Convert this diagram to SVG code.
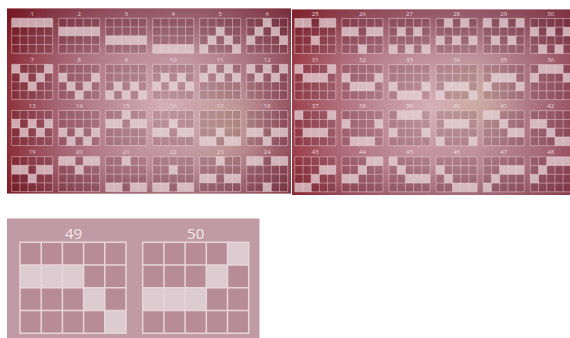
<svg xmlns="http://www.w3.org/2000/svg" xmlns:xlink="http://www.w3.org/1999/xlink" width="570" height="338" viewBox="0 0 570 338">
<style>
.n{font-family:"Open Sans","Liberation Sans",sans-serif;font-size:6px;fill:#f3e6ea;text-anchor:middle;opacity:.85}
.N{font-family:"Open Sans","Liberation Sans",sans-serif;font-size:15px;fill:#f4eaec;text-anchor:middle}
.cb{fill:#3a0812;fill-opacity:.15}
.gl{fill:none;stroke:#f4e2e7;stroke-opacity:.55;stroke-width:.8}
.on{fill:#f2e4e8;fill-opacity:.68}
.CB{fill:#b88b98}
.GL{fill:none;stroke:#e6d6da;stroke-width:1.5}
.ON{fill:#dccbd0}
</style>
<defs>
<linearGradient id="lb" x1="0" y1="0" x2="1" y2="0">
<stop offset="0" stop-color="#821b23"/><stop offset=".3" stop-color="#8e4252"/><stop offset=".65" stop-color="#9c6674"/><stop offset="1" stop-color="#7a2a38"/>
</linearGradient>
<linearGradient id="rb" x1="0" y1="0" x2="1" y2="0">
<stop offset="0" stop-color="#8c1b22"/><stop offset=".3" stop-color="#944050"/><stop offset=".65" stop-color="#9c6474"/><stop offset="1" stop-color="#8a3a4a"/>
</linearGradient>
<linearGradient id="vd" x1="0" y1="0" x2="0" y2="1">
<stop offset="0" stop-color="#5a0f1c" stop-opacity=".35"/><stop offset=".25" stop-color="#5a0f1c" stop-opacity="0"/><stop offset=".85" stop-color="#5a0f1c" stop-opacity="0"/><stop offset="1" stop-color="#5a0f1c" stop-opacity=".2"/>
</linearGradient>
<radialGradient id="lp" gradientUnits="userSpaceOnUse" cx="165" cy="108" r="185">
<stop offset="0" stop-color="#d8b4be" stop-opacity=".95"/><stop offset=".55" stop-color="#c496a4" stop-opacity=".55"/><stop offset="1" stop-color="#c496a4" stop-opacity="0"/>
</radialGradient>
<radialGradient id="ly" gradientUnits="userSpaceOnUse" cx="228" cy="125" r="55">
<stop offset="0" stop-color="#d8c8a2" stop-opacity=".45"/><stop offset="1" stop-color="#d8c8a2" stop-opacity="0"/>
</radialGradient>
<radialGradient id="rp" gradientUnits="userSpaceOnUse" cx="430" cy="108" r="185">
<stop offset="0" stop-color="#d8b4be" stop-opacity=".95"/><stop offset=".55" stop-color="#c496a4" stop-opacity=".55"/><stop offset="1" stop-color="#c496a4" stop-opacity="0"/>
</radialGradient>
<radialGradient id="ry" gradientUnits="userSpaceOnUse" cx="475" cy="100" r="55">
<stop offset="0" stop-color="#d8c8a2" stop-opacity=".45"/><stop offset="1" stop-color="#d8c8a2" stop-opacity="0"/>
</radialGradient>
<rect id="b" width="41" height="35" class="cb"/>
<path id="l" class="gl" d="M0,0H41V35H0Z M8.2,0V35 M16.4,0V35 M24.6,0V35 M32.8,0V35 M0,8.75H41 M0,17.5H41 M0,26.25H41"/>
<rect id="c" width="8.2" height="8.75" class="on"/>
<rect id="B" width="106" height="91" class="CB"/>
<path id="L" class="GL" d="M0,0H106V91H0Z M21.2,0V91 M42.4,0V91 M63.6,0V91 M84.8,0V91 M0,22.75H106 M0,45.5H106 M0,68.25H106"/>
<rect id="C" width="21.2" height="22.75" class="ON"/>
</defs>
<rect width="570" height="338" fill="#ffffff"/>
<g id="panel-left">
<rect x="7" y="8.5" width="284" height="185" fill="url(#lb)"/>
<rect x="7" y="8.5" width="284" height="185" fill="url(#lp)"/>
<rect x="7" y="8.5" width="284" height="185" fill="url(#ly)"/>
<rect x="7" y="8.5" width="284" height="185" fill="url(#vd)"/>
</g>
<g id="panel-right">
<rect x="292" y="9.5" width="278" height="185.5" fill="url(#rb)"/>
<rect x="292" y="9.5" width="278" height="185.5" fill="url(#rp)"/>
<rect x="292" y="9.5" width="278" height="185.5" fill="url(#ry)"/>
<rect x="292" y="9.5" width="278" height="185.5" fill="url(#vd)"/>
</g>
<g id="panel-bottom"><rect x="7" y="218.5" width="252.5" height="120" fill="#c09aa4"/></g>

<g id="line1" transform="translate(11.7 18.3)"><text class="n" x="20.5" y="-2.6">1</text><use href="#b"/><use href="#c" y="0"/><use href="#c" x="8.2" y="0"/><use href="#c" x="16.4" y="0"/><use href="#c" x="24.6" y="0"/><use href="#c" x="32.8" y="0"/><use href="#l"/></g>
<g id="line2" transform="translate(58.7 18.3)"><text class="n" x="20.5" y="-2.6">2</text><use href="#b"/><use href="#c" y="8.75"/><use href="#c" x="8.2" y="8.75"/><use href="#c" x="16.4" y="8.75"/><use href="#c" x="24.6" y="8.75"/><use href="#c" x="32.8" y="8.75"/><use href="#l"/></g>
<g id="line3" transform="translate(105.7 18.3)"><text class="n" x="20.5" y="-2.6">3</text><use href="#b"/><use href="#c" y="17.5"/><use href="#c" x="8.2" y="17.5"/><use href="#c" x="16.4" y="17.5"/><use href="#c" x="24.6" y="17.5"/><use href="#c" x="32.8" y="17.5"/><use href="#l"/></g>
<g id="line4" transform="translate(152.7 18.3)"><text class="n" x="20.5" y="-2.6">4</text><use href="#b"/><use href="#c" y="26.25"/><use href="#c" x="8.2" y="26.25"/><use href="#c" x="16.4" y="26.25"/><use href="#c" x="24.6" y="26.25"/><use href="#c" x="32.8" y="26.25"/><use href="#l"/></g>
<g id="line5" transform="translate(199.7 18.3)"><text class="n" x="20.5" y="-2.6">5</text><use href="#b"/><use href="#c" y="26.25"/><use href="#c" x="8.2" y="17.5"/><use href="#c" x="16.4" y="8.75"/><use href="#c" x="24.6" y="17.5"/><use href="#c" x="32.8" y="26.25"/><use href="#l"/></g>
<g id="line6" transform="translate(246.7 18.3)"><text class="n" x="20.5" y="-2.6">6</text><use href="#b"/><use href="#c" y="17.5"/><use href="#c" x="8.2" y="8.75"/><use href="#c" x="16.4" y="0"/><use href="#c" x="24.6" y="8.75"/><use href="#c" x="32.8" y="17.5"/><use href="#l"/></g>

<g id="line7" transform="translate(11.7 64.4)"><text class="n" x="20.5" y="-2.6">7</text><use href="#b"/><use href="#c" y="0"/><use href="#c" x="8.2" y="8.75"/><use href="#c" x="16.4" y="17.5"/><use href="#c" x="24.6" y="8.75"/><use href="#c" x="32.8" y="0"/><use href="#l"/></g>
<g id="line8" transform="translate(58.7 64.4)"><text class="n" x="20.5" y="-2.6">8</text><use href="#b"/><use href="#c" y="8.75"/><use href="#c" x="8.2" y="17.5"/><use href="#c" x="16.4" y="26.25"/><use href="#c" x="24.6" y="17.5"/><use href="#c" x="32.8" y="8.75"/><use href="#l"/></g>
<g id="line9" transform="translate(105.7 64.4)"><text class="n" x="20.5" y="-2.6">9</text><use href="#b"/><use href="#c" y="26.25"/><use href="#c" x="8.2" y="17.5"/><use href="#c" x="16.4" y="26.25"/><use href="#c" x="24.6" y="17.5"/><use href="#c" x="32.8" y="26.25"/><use href="#l"/></g>
<g id="line10" transform="translate(152.7 64.4)"><text class="n" x="20.5" y="-2.6">10</text><use href="#b"/><use href="#c" y="17.5"/><use href="#c" x="8.2" y="8.75"/><use href="#c" x="16.4" y="17.5"/><use href="#c" x="24.6" y="8.75"/><use href="#c" x="32.8" y="17.5"/><use href="#l"/></g>
<g id="line11" transform="translate(199.7 64.4)"><text class="n" x="20.5" y="-2.6">11</text><use href="#b"/><use href="#c" y="8.75"/><use href="#c" x="8.2" y="0"/><use href="#c" x="16.4" y="8.75"/><use href="#c" x="24.6" y="0"/><use href="#c" x="32.8" y="8.75"/><use href="#l"/></g>
<g id="line12" transform="translate(246.7 64.4)"><text class="n" x="20.5" y="-2.6">12</text><use href="#b"/><use href="#c" y="0"/><use href="#c" x="8.2" y="8.75"/><use href="#c" x="16.4" y="0"/><use href="#c" x="24.6" y="8.75"/><use href="#c" x="32.8" y="0"/><use href="#l"/></g>

<g id="line13" transform="translate(11.7 110.5)"><text class="n" x="20.5" y="-2.6">13</text><use href="#b"/><use href="#c" y="8.75"/><use href="#c" x="8.2" y="17.5"/><use href="#c" x="16.4" y="8.75"/><use href="#c" x="24.6" y="17.5"/><use href="#c" x="32.8" y="8.75"/><use href="#l"/></g>
<g id="line14" transform="translate(58.7 110.5)"><text class="n" x="20.5" y="-2.6">14</text><use href="#b"/><use href="#c" y="17.5"/><use href="#c" x="8.2" y="26.25"/><use href="#c" x="16.4" y="17.5"/><use href="#c" x="24.6" y="26.25"/><use href="#c" x="32.8" y="17.5"/><use href="#l"/></g>
<g id="line15" transform="translate(105.7 110.5)"><text class="n" x="20.5" y="-2.6">15</text><use href="#b"/><use href="#c" y="8.75"/><use href="#c" x="8.2" y="8.75"/><use href="#c" x="16.4" y="0"/><use href="#c" x="24.6" y="8.75"/><use href="#c" x="32.8" y="8.75"/><use href="#l"/></g>
<g id="line16" transform="translate(152.7 110.5)"><text class="n" x="20.5" y="-2.6">16</text><use href="#b"/><use href="#c" y="17.5"/><use href="#c" x="8.2" y="17.5"/><use href="#c" x="16.4" y="8.75"/><use href="#c" x="24.6" y="17.5"/><use href="#c" x="32.8" y="17.5"/><use href="#l"/></g>
<g id="line17" transform="translate(199.7 110.5)"><text class="n" x="20.5" y="-2.6">17</text><use href="#b"/><use href="#c" y="26.25"/><use href="#c" x="8.2" y="26.25"/><use href="#c" x="16.4" y="17.5"/><use href="#c" x="24.6" y="26.25"/><use href="#c" x="32.8" y="26.25"/><use href="#l"/></g>
<g id="line18" transform="translate(246.7 110.5)"><text class="n" x="20.5" y="-2.6">18</text><use href="#b"/><use href="#c" y="17.5"/><use href="#c" x="8.2" y="17.5"/><use href="#c" x="16.4" y="26.25"/><use href="#c" x="24.6" y="17.5"/><use href="#c" x="32.8" y="17.5"/><use href="#l"/></g>

<g id="line19" transform="translate(11.7 156.6)"><text class="n" x="20.5" y="-2.6">19</text><use href="#b"/><use href="#c" y="8.75"/><use href="#c" x="8.2" y="8.75"/><use href="#c" x="16.4" y="17.5"/><use href="#c" x="24.6" y="8.75"/><use href="#c" x="32.8" y="8.75"/><use href="#l"/></g>
<g id="line20" transform="translate(58.7 156.6)"><text class="n" x="20.5" y="-2.6">20</text><use href="#b"/><use href="#c" y="0"/><use href="#c" x="8.2" y="0"/><use href="#c" x="16.4" y="8.75"/><use href="#c" x="24.6" y="0"/><use href="#c" x="32.8" y="0"/><use href="#l"/></g>
<g id="line21" transform="translate(105.7 156.6)"><text class="n" x="20.5" y="-2.6">21</text><use href="#b"/><use href="#c" y="26.25"/><use href="#c" x="8.2" y="26.25"/><use href="#c" x="16.4" y="0"/><use href="#c" x="24.6" y="26.25"/><use href="#c" x="32.8" y="26.25"/><use href="#l"/></g>
<g id="line22" transform="translate(152.7 156.6)"><text class="n" x="20.5" y="-2.6">22</text><use href="#b"/><use href="#c" y="26.25"/><use href="#c" x="8.2" y="26.25"/><use href="#c" x="16.4" y="8.75"/><use href="#c" x="24.6" y="26.25"/><use href="#c" x="32.8" y="26.25"/><use href="#l"/></g>
<g id="line23" transform="translate(199.7 156.6)"><text class="n" x="20.5" y="-2.6">23</text><use href="#b"/><use href="#c" y="17.5"/><use href="#c" x="8.2" y="17.5"/><use href="#c" x="16.4" y="0"/><use href="#c" x="24.6" y="17.5"/><use href="#c" x="32.8" y="17.5"/><use href="#l"/></g>
<g id="line24" transform="translate(246.7 156.6)"><text class="n" x="20.5" y="-2.6">24</text><use href="#b"/><use href="#c" y="0"/><use href="#c" x="8.2" y="0"/><use href="#c" x="16.4" y="26.25"/><use href="#c" x="24.6" y="0"/><use href="#c" x="32.8" y="0"/><use href="#l"/></g>

<g id="line25" transform="translate(294.8 18.5)"><text class="n" x="20.5" y="-2.6">25</text><use href="#b"/><use href="#c" y="0"/><use href="#c" x="8.2" y="0"/><use href="#c" x="16.4" y="17.5"/><use href="#c" x="24.6" y="0"/><use href="#c" x="32.8" y="0"/><use href="#l"/></g>
<g id="line26" transform="translate(341.9 18.5)"><text class="n" x="20.5" y="-2.6">26</text><use href="#b"/><use href="#c" y="8.75"/><use href="#c" x="8.2" y="8.75"/><use href="#c" x="16.4" y="26.25"/><use href="#c" x="24.6" y="8.75"/><use href="#c" x="32.8" y="8.75"/><use href="#l"/></g>
<g id="line27" transform="translate(389 18.5)"><text class="n" x="20.5" y="-2.6">27</text><use href="#b"/><use href="#c" y="26.25"/><use href="#c" x="8.2" y="8.75"/><use href="#c" x="16.4" y="26.25"/><use href="#c" x="24.6" y="8.75"/><use href="#c" x="32.8" y="26.25"/><use href="#l"/></g>
<g id="line28" transform="translate(436.1 18.5)"><text class="n" x="20.5" y="-2.6">28</text><use href="#b"/><use href="#c" y="17.5"/><use href="#c" x="8.2" y="0"/><use href="#c" x="16.4" y="17.5"/><use href="#c" x="24.6" y="0"/><use href="#c" x="32.8" y="17.5"/><use href="#l"/></g>
<g id="line29" transform="translate(483.2 18.5)"><text class="n" x="20.5" y="-2.6">29</text><use href="#b"/><use href="#c" y="0"/><use href="#c" x="8.2" y="17.5"/><use href="#c" x="16.4" y="0"/><use href="#c" x="24.6" y="17.5"/><use href="#c" x="32.8" y="0"/><use href="#l"/></g>
<g id="line30" transform="translate(530.3 18.5)"><text class="n" x="20.5" y="-2.6">30</text><use href="#b"/><use href="#c" y="8.75"/><use href="#c" x="8.2" y="26.25"/><use href="#c" x="16.4" y="8.75"/><use href="#c" x="24.6" y="26.25"/><use href="#c" x="32.8" y="8.75"/><use href="#l"/></g>

<g id="line31" transform="translate(294.8 64.6)"><text class="n" x="20.5" y="-2.6">31</text><use href="#b"/><use href="#c" y="0"/><use href="#c" x="8.2" y="8.75"/><use href="#c" x="16.4" y="8.75"/><use href="#c" x="24.6" y="8.75"/><use href="#c" x="32.8" y="0"/><use href="#l"/></g>
<g id="line32" transform="translate(341.9 64.6)"><text class="n" x="20.5" y="-2.6">32</text><use href="#b"/><use href="#c" y="8.75"/><use href="#c" x="8.2" y="17.5"/><use href="#c" x="16.4" y="17.5"/><use href="#c" x="24.6" y="17.5"/><use href="#c" x="32.8" y="8.75"/><use href="#l"/></g>
<g id="line33" transform="translate(389 64.6)"><text class="n" x="20.5" y="-2.6">33</text><use href="#b"/><use href="#c" y="17.5"/><use href="#c" x="8.2" y="26.25"/><use href="#c" x="16.4" y="26.25"/><use href="#c" x="24.6" y="26.25"/><use href="#c" x="32.8" y="17.5"/><use href="#l"/></g>
<g id="line34" transform="translate(436.1 64.6)"><text class="n" x="20.5" y="-2.6">34</text><use href="#b"/><use href="#c" y="26.25"/><use href="#c" x="8.2" y="17.5"/><use href="#c" x="16.4" y="17.5"/><use href="#c" x="24.6" y="17.5"/><use href="#c" x="32.8" y="26.25"/><use href="#l"/></g>
<g id="line35" transform="translate(483.2 64.6)"><text class="n" x="20.5" y="-2.6">35</text><use href="#b"/><use href="#c" y="17.5"/><use href="#c" x="8.2" y="8.75"/><use href="#c" x="16.4" y="8.75"/><use href="#c" x="24.6" y="8.75"/><use href="#c" x="32.8" y="17.5"/><use href="#l"/></g>
<g id="line36" transform="translate(530.3 64.6)"><text class="n" x="20.5" y="-2.6">36</text><use href="#b"/><use href="#c" y="8.75"/><use href="#c" x="8.2" y="0"/><use href="#c" x="16.4" y="0"/><use href="#c" x="24.6" y="0"/><use href="#c" x="32.8" y="8.75"/><use href="#l"/></g>

<g id="line37" transform="translate(294.8 110.7)"><text class="n" x="20.5" y="-2.6">37</text><use href="#b"/><use href="#c" y="0"/><use href="#c" x="8.2" y="17.5"/><use href="#c" x="16.4" y="17.5"/><use href="#c" x="24.6" y="17.5"/><use href="#c" x="32.8" y="0"/><use href="#l"/></g>
<g id="line38" transform="translate(341.9 110.7)"><text class="n" x="20.5" y="-2.6">38</text><use href="#b"/><use href="#c" y="8.75"/><use href="#c" x="8.2" y="26.25"/><use href="#c" x="16.4" y="26.25"/><use href="#c" x="24.6" y="26.25"/><use href="#c" x="32.8" y="8.75"/><use href="#l"/></g>
<g id="line39" transform="translate(389 110.7)"><text class="n" x="20.5" y="-2.6">39</text><use href="#b"/><use href="#c" y="17.5"/><use href="#c" x="8.2" y="0"/><use href="#c" x="16.4" y="0"/><use href="#c" x="24.6" y="0"/><use href="#c" x="32.8" y="17.5"/><use href="#l"/></g>
<g id="line40" transform="translate(436.1 110.7)"><text class="n" x="20.5" y="-2.6">40</text><use href="#b"/><use href="#c" y="26.25"/><use href="#c" x="8.2" y="8.75"/><use href="#c" x="16.4" y="8.75"/><use href="#c" x="24.6" y="8.75"/><use href="#c" x="32.8" y="26.25"/><use href="#l"/></g>
<g id="line41" transform="translate(483.2 110.7)"><text class="n" x="20.5" y="-2.6">41</text><use href="#b"/><use href="#c" y="0"/><use href="#c" x="8.2" y="0"/><use href="#c" x="16.4" y="8.75"/><use href="#c" x="24.6" y="17.5"/><use href="#c" x="32.8" y="17.5"/><use href="#l"/></g>
<g id="line42" transform="translate(530.3 110.7)"><text class="n" x="20.5" y="-2.6">42</text><use href="#b"/><use href="#c" y="8.75"/><use href="#c" x="8.2" y="8.75"/><use href="#c" x="16.4" y="17.5"/><use href="#c" x="24.6" y="26.25"/><use href="#c" x="32.8" y="26.25"/><use href="#l"/></g>

<g id="line43" transform="translate(294.8 156.8)"><text class="n" x="20.5" y="-2.6">43</text><use href="#b"/><use href="#c" y="26.25"/><use href="#c" x="8.2" y="26.25"/><use href="#c" x="16.4" y="17.5"/><use href="#c" x="24.6" y="8.75"/><use href="#c" x="32.8" y="8.75"/><use href="#l"/></g>
<g id="line44" transform="translate(341.9 156.8)"><text class="n" x="20.5" y="-2.6">44</text><use href="#b"/><use href="#c" y="17.5"/><use href="#c" x="8.2" y="17.5"/><use href="#c" x="16.4" y="8.75"/><use href="#c" x="24.6" y="0"/><use href="#c" x="32.8" y="0"/><use href="#l"/></g>
<g id="line45" transform="translate(389 156.8)"><text class="n" x="20.5" y="-2.6">45</text><use href="#b"/><use href="#c" y="0"/><use href="#c" x="8.2" y="8.75"/><use href="#c" x="16.4" y="17.5"/><use href="#c" x="24.6" y="17.5"/><use href="#c" x="32.8" y="17.5"/><use href="#l"/></g>
<g id="line46" transform="translate(436.1 156.8)"><text class="n" x="20.5" y="-2.6">46</text><use href="#b"/><use href="#c" y="8.75"/><use href="#c" x="8.2" y="17.5"/><use href="#c" x="16.4" y="26.25"/><use href="#c" x="24.6" y="26.25"/><use href="#c" x="32.8" y="26.25"/><use href="#l"/></g>
<g id="line47" transform="translate(483.2 156.8)"><text class="n" x="20.5" y="-2.6">47</text><use href="#b"/><use href="#c" y="26.25"/><use href="#c" x="8.2" y="17.5"/><use href="#c" x="16.4" y="8.75"/><use href="#c" x="24.6" y="8.75"/><use href="#c" x="32.8" y="8.75"/><use href="#l"/></g>
<g id="line48" transform="translate(530.3 156.8)"><text class="n" x="20.5" y="-2.6">48</text><use href="#b"/><use href="#c" y="17.5"/><use href="#c" x="8.2" y="8.75"/><use href="#c" x="16.4" y="0"/><use href="#c" x="24.6" y="0"/><use href="#c" x="32.8" y="0"/><use href="#l"/></g>

<g id="line49" transform="translate(20 242.3)"><text class="N" x="53.5" y="-3.2">49</text><use href="#B"/><use href="#C" y="22.75"/><use href="#C" x="21.2" y="22.75"/><use href="#C" x="42.4" y="22.75"/><use href="#C" x="63.6" y="45.5"/><use href="#C" x="84.8" y="68.25"/><use href="#L"/></g>
<g id="line50" transform="translate(142.7 242.3)"><text class="N" x="53" y="-3.2">50</text><use href="#B"/><use href="#C" y="45.5"/><use href="#C" x="21.2" y="45.5"/><use href="#C" x="42.4" y="45.5"/><use href="#C" x="63.6" y="22.75"/><use href="#C" x="84.8" y="0"/><use href="#L"/></g>
</svg>
